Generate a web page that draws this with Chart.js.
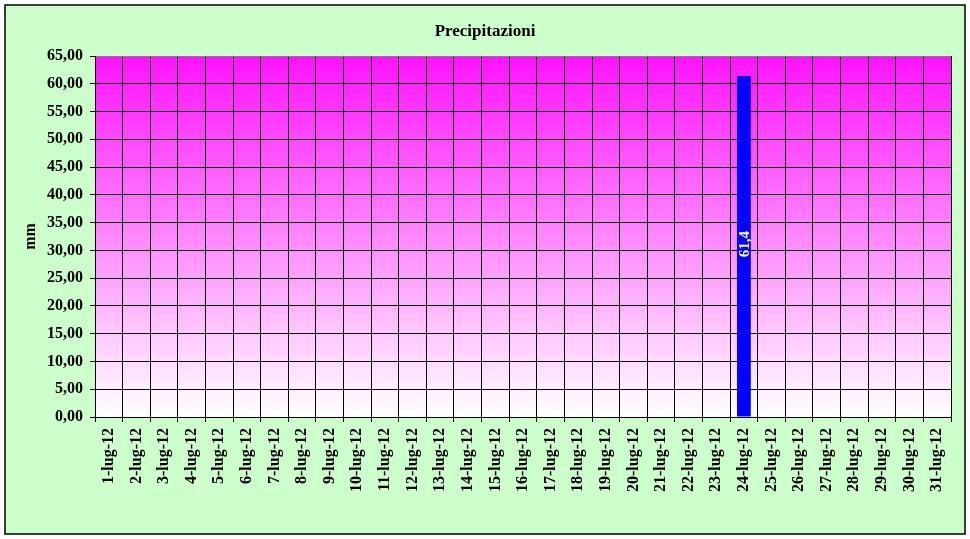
<!DOCTYPE html>
<html>
<head>
<meta charset="utf-8">
<script src="https://cdn.jsdelivr.net/npm/chart.js@4.4.1/dist/chart.umd.min.js"></script>
<style>
  html, body { margin: 0; padding: 0; background: #ffffff; }
  canvas { display: block; }
</style>
</head>
<body>
<canvas id="rainChart" width="970" height="539"></canvas>
<script>
  // dati di luglio 2012
  const giorni = [];
  for (let d = 1; d <= 31; d++) giorni.push(d + "-lug-12");
  const precipitazioni = [
    0, 0, 0, 0, 0, 0, 0, 0, 0, 0,
    0, 0, 0, 0, 0, 0, 0, 0, 0, 0,
    0, 0, 0, 61.4, 0, 0, 0, 0, 0, 0,
    0
  ];
  const yMin = 0, yMax = 65, yStep = 5;

  const FONT = "'Liberation Serif', 'DejaVu Serif', serif";

  // sfondo verde + bordo e gradiente dell'area del grafico
  const backgroundPlugin = {
    id: "sfondo",
    beforeDraw: (chart) => {
      const ctx = chart.ctx;
      const a = chart.chartArea;
      ctx.save();
      ctx.fillStyle = "#ffffff";
      ctx.fillRect(0, 0, chart.width, chart.height);
      ctx.fillStyle = "#CCFFCC";
      ctx.fillRect(5, 5, 960, 529);
      ctx.strokeStyle = "#000000";
      ctx.lineWidth = 1.5;
      ctx.strokeRect(5, 5, 960, 529);
      const g = ctx.createLinearGradient(0, a.top, 0, a.bottom);
      g.addColorStop(0, "#FF12FF");
      g.addColorStop(1, "#FFFFFF");
      ctx.fillStyle = g;
      ctx.fillRect(a.left, a.top, a.right - a.left, a.bottom - a.top);
      ctx.restore();
    }
  };

  // etichetta del valore ruotata dentro la barra
  const valueLabelPlugin = {
    id: "etichette",
    afterDatasetsDraw: (chart) => {
      const ctx = chart.ctx;
      const meta = chart.getDatasetMeta(0);
      ctx.save();
      ctx.font = "bold 15px " + FONT;
      ctx.fillStyle = "#ffffff";
      ctx.textAlign = "center";
      ctx.textBaseline = "middle";
      meta.data.forEach((bar, i) => {
        const v = precipitazioni[i];
        if (!v) return;
        const yc = (bar.y + bar.base) / 2;
        ctx.save();
        ctx.translate(bar.x + 1, yc - 2);
        ctx.rotate(-Math.PI / 2);
        ctx.fillText(String(v).replace(".", ","), 0, 0);
        ctx.restore();
      });
      ctx.restore();
    }
  };

  new Chart(document.getElementById("rainChart").getContext("2d"), {
    type: "bar",
    data: {
      labels: giorni,
      datasets: [{
        label: "mm",
        data: precipitazioni,
        backgroundColor: "#0000FF",
        borderWidth: 0,
        categoryPercentage: 1.0,
        barPercentage: 0.5
      }]
    },
    options: {
      responsive: false,
      animation: false,
      devicePixelRatio: 1,
      layout: { padding: { left: 5, right: 5, top: 5, bottom: 5 } },
      plugins: {
        legend: { display: false },
        tooltip: { enabled: false },
        title: {
          display: true,
          text: "Precipitazioni",
          color: "#000000",
          font: { family: FONT, size: 17, weight: "bold", lineHeight: 1.2 },
          padding: { top: 16.8, bottom: 13.8 }
        }
      },
      scales: {
        x: {
          afterFit: (s) => { s.height = 117; },
          grid: {
            offset: true,
            color: (c) => (c.index === giorni.length ? "#808080" : "#000000"),
            lineWidth: 1,
            tickLength: 5,
            tickColor: "#000000"
          },
          border: { color: "#000000", width: 1 },
          ticks: {
            color: "#000000",
            font: { family: FONT, size: 16, weight: "bold" },
            minRotation: 90,
            maxRotation: 90,
            autoSkip: false,
            padding: 6
          }
        },
        y: {
          min: yMin,
          max: yMax,
          afterFit: (s) => { s.width = 90; },
          grid: {
            color: (c) => (c.tick && c.tick.value === yMax ? "#808080" : "#000000"),
            lineWidth: 1,
            tickLength: 5,
            tickColor: "#000000"
          },
          border: { color: "#000000", width: 1 },
          title: {
            display: true,
            text: "mm",
            color: "#000000",
            font: { family: FONT, size: 16, weight: "bold" },
            padding: { top: 16, bottom: 0 }
          },
          ticks: {
            stepSize: yStep,
            color: "#000000",
            font: { family: FONT, size: 16, weight: "bold" },
            padding: 7,
            callback: (v) => v.toFixed(2).replace(".", ",")
          }
        },
        // asse vuoto a destra: solo spazio, così il titolo resta centrato sulla pagina
        margine: {
          position: "right",
          min: yMin,
          max: yMax,
          afterFit: (s) => { s.width = 14; },
          grid: { display: false, drawTicks: false },
          border: { display: false },
          ticks: { display: false }
        }
      }
    },
    plugins: [backgroundPlugin, valueLabelPlugin]
  });
</script>
</body>
</html>
